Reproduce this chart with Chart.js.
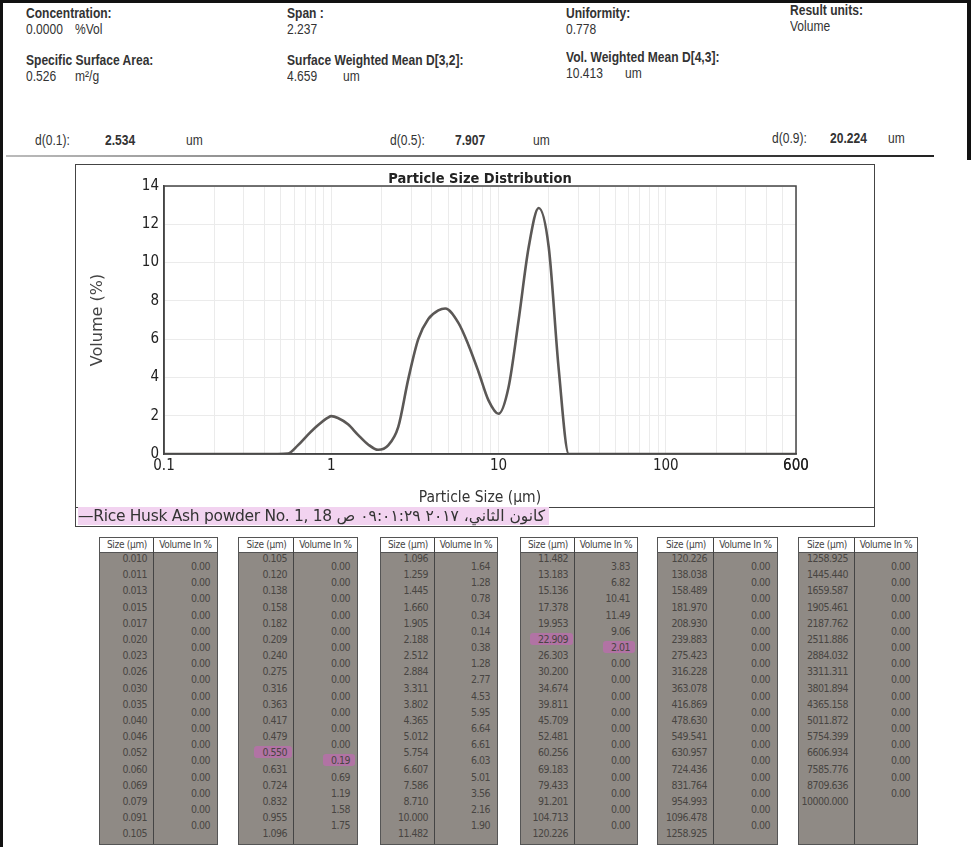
<!DOCTYPE html>
<html>
<head>
<meta charset="utf-8">
<script src="https://cdn.jsdelivr.net/npm/chart.js@4.4.1/dist/chart.umd.min.js"></script>
<style>
  html,body{margin:0;padding:0;background:#fff;}
  body{width:971px;height:847px;position:relative;overflow:hidden;font-family:"Liberation Sans",Arial,sans-serif;color:#333;}
  .t{position:absolute;white-space:nowrap;font-size:14px;transform:scaleX(0.86);transform-origin:left center;}
  .b{font-weight:bold;}
  .frame-l{position:absolute;left:0;top:0;width:3px;height:847px;background:#111;}
  .frame-t{position:absolute;left:0;top:0;width:971px;height:3px;background:#111;}
  .frame-r{position:absolute;right:0;top:0;width:4px;height:160px;background:#111;}
  .hline{position:absolute;left:6px;top:155px;width:928px;height:2px;background:linear-gradient(90deg,#bbb,#555 60%,#222);}
  #box{position:absolute;left:75px;top:164px;width:800px;height:363px;border:1px solid #444;box-sizing:border-box;}
  #wrap{position:absolute;left:0;top:0;width:798px;height:343px;}
  #legend{position:absolute;left:0;top:342px;width:798px;height:19px;border-top:1px solid #444;}
  #legend span{position:absolute;left:2px;top:-1px;font-family:"DejaVu Sans",sans-serif;font-size:15.5px;letter-spacing:-0.3px;color:#333;background:#f2d3f0;padding-right:4px;}
  .tb{position:absolute;top:537px;height:308px;border:1px solid #555;box-sizing:border-box;background:#8f8a85;}
  .th{position:absolute;top:0;height:15px;background:#fff;border-bottom:1px solid #555;box-sizing:border-box;font-family:"DejaVu Sans Condensed",sans-serif;font-size:10px;color:#444;text-align:center;line-height:14px;letter-spacing:-0.3px;}
  .sep{position:absolute;top:0;bottom:0;width:1px;background:#444;}
  .cell{position:absolute;font-family:"DejaVu Sans Condensed",sans-serif;font-size:10.5px;color:#484542;letter-spacing:-0.5px;line-height:12px;}
  .mark{background:rgba(200,100,185,0.6);border-radius:3px;padding:0 5px 0 8px;margin-right:-5px;}
</style>
</head>
<body>
<div class="frame-l"></div><div class="frame-t"></div><div class="frame-r"></div>

<div class="t b" style="left:26px;top:5px;">Concentration:</div>
<div class="t" style="left:26px;top:21px;">0.0000</div>
<div class="t" style="left:75px;top:21px;">%Vol</div>
<div class="t b" style="left:287px;top:5px;">Span :</div>
<div class="t" style="left:287px;top:21px;">2.237</div>
<div class="t b" style="left:566px;top:5px;">Uniformity:</div>
<div class="t" style="left:566px;top:21px;">0.778</div>
<div class="t b" style="left:790px;top:2px;">Result units:</div>
<div class="t" style="left:790px;top:18px;">Volume</div>

<div class="t b" style="left:26px;top:52px;">Specific Surface Area:</div>
<div class="t" style="left:26px;top:68px;">0.526</div>
<div class="t" style="left:75px;top:68px;">m²/g</div>
<div class="t b" style="left:287px;top:52px;">Surface Weighted Mean D[3,2]:</div>
<div class="t" style="left:287px;top:68px;">4.659</div>
<div class="t" style="left:343px;top:68px;">um</div>
<div class="t b" style="left:566px;top:49px;">Vol. Weighted Mean D[4,3]:</div>
<div class="t" style="left:566px;top:65px;">10.413</div>
<div class="t" style="left:625px;top:65px;">um</div>

<div class="t" style="left:35px;top:132px;">d(0.1):</div>
<div class="t b" style="left:105px;top:132px;">2.534</div>
<div class="t" style="left:186px;top:132px;">um</div>
<div class="t" style="left:390px;top:132px;">d(0.5):</div>
<div class="t b" style="left:455px;top:132px;">7.907</div>
<div class="t" style="left:533px;top:132px;">um</div>
<div class="t" style="left:772px;top:130px;">d(0.9):</div>
<div class="t b" style="left:830px;top:130px;">20.224</div>
<div class="t" style="left:888px;top:130px;">um</div>
<div class="hline"></div>

<div id="box">
  <div id="wrap"><canvas id="psd"></canvas></div>
  <div id="legend"><span>—Rice Husk Ash powder No. 1, 18 كانون الثاني، ٢٠١٧ ٠٩:٠١:٢٩ ص</span></div>
</div>

<div id="tables"></div>

<script>
// curve (size in um, volume in %)
const curveSizes=[0.1,0.479,0.55,0.631,0.724,0.832,0.955,1.0,1.096,1.259,1.445,1.66,1.905,2.188,2.512,2.884,3.311,3.802,4.365,4.8,5.754,6.607,7.586,8.71,10,11.482,13.183,15.136,17.378,19.953,22.909,26.303,600];
const curveVolume=[0,0,0.02,0.45,1.0,1.5,1.9,1.98,1.88,1.55,1.0,0.5,0.22,0.45,1.4,3.9,6.0,7.05,7.5,7.6,6.85,5.7,4.3,2.8,2.1,3.5,7.0,10.8,12.85,10.8,4.4,0,0];

const xTickLabels=[0.1,1,10,100,600];
const yTickLabels=[0,2,4,6,8,10,12,14];

// result table columns
const tableSizes=[
  ["0.010","0.011","0.013","0.015","0.017","0.020","0.023","0.026","0.030","0.035","0.040","0.046","0.052","0.060","0.069","0.079","0.091","0.105"],
  ["0.105","0.120","0.138","0.158","0.182","0.209","0.240","0.275","0.316","0.363","0.417","0.479","0.550","0.631","0.724","0.832","0.955","1.096"],
  ["1.096","1.259","1.445","1.660","1.905","2.188","2.512","2.884","3.311","3.802","4.365","5.012","5.754","6.607","7.586","8.710","10.000","11.482"],
  ["11.482","13.183","15.136","17.378","19.953","22.909","26.303","30.200","34.674","39.811","45.709","52.481","60.256","69.183","79.433","91.201","104.713","120.226"],
  ["120.226","138.038","158.489","181.970","208.930","239.883","275.423","316.228","363.078","416.869","478.630","549.541","630.957","724.436","831.764","954.993","1096.478","1258.925"],
  ["1258.925","1445.440","1659.587","1905.461","2187.762","2511.886","2884.032","3311.311","3801.894","4365.158","5011.872","5754.399","6606.934","7585.776","8709.636","10000.000"]
];
const tableVolumes=[
  ["0.00","0.00","0.00","0.00","0.00","0.00","0.00","0.00","0.00","0.00","0.00","0.00","0.00","0.00","0.00","0.00","0.00"],
  ["0.00","0.00","0.00","0.00","0.00","0.00","0.00","0.00","0.00","0.00","0.00","0.00","0.19","0.69","1.19","1.58","1.75"],
  ["1.64","1.28","0.78","0.34","0.14","0.38","1.28","2.77","4.53","5.95","6.64","6.61","6.03","5.01","3.56","2.16","1.90"],
  ["3.83","6.82","10.41","11.49","9.06","2.01","0.00","0.00","0.00","0.00","0.00","0.00","0.00","0.00","0.00","0.00","0.00"],
  ["0.00","0.00","0.00","0.00","0.00","0.00","0.00","0.00","0.00","0.00","0.00","0.00","0.00","0.00","0.00","0.00","0.00"],
  ["0.00","0.00","0.00","0.00","0.00","0.00","0.00","0.00","0.00","0.00","0.00","0.00","0.00","0.00","0.00"]
];
// highlighter marks on the printout: [table, row]
const marked=[[1,12],[3,5]];

const tableLeft=[99,238,380,520,657,798];
const sizeColW=[54,55,54,54,56,56];
const tableW=[119,120,118,118,121,120];

function buildTables(){
  const host=document.getElementById("tables");
  tableSizes.forEach((sizes,t)=>{
    const tb=document.createElement("div");
    tb.className="tb";
    tb.style.left=tableLeft[t]+"px";
    tb.style.width=tableW[t]+"px";
    let html='<div class="th" style="left:0;width:'+sizeColW[t]+'px">Size (µm)</div>'+
      '<div class="th" style="left:'+sizeColW[t]+'px;width:'+(tableW[t]-sizeColW[t]-2)+'px">Volume In %</div>'+
      '<div class="sep" style="left:'+(sizeColW[t]-1)+'px"></div>';
    const isMarked=(r)=>marked.some(m=>m[0]===t&&m[1]===r);
    sizes.forEach((s,r)=>{
      const y=14+16.2*r;
      html+='<div class="cell'+(isMarked(r)?' mark':'')+'" style="top:'+y+'px;right:'+(tableW[t]-sizeColW[t]+5)+'px">'+s+'</div>';
    });
    tableVolumes[t].forEach((v,r)=>{
      const y=22+16.2*r;
      html+='<div class="cell'+(isMarked(r)?' mark':'')+'" style="top:'+y+'px;right:7px">'+v+'</div>';
    });
    tb.innerHTML=html;
    host.appendChild(tb);
  });
}
buildTables();

// log grid positions 0.1..600
const gridTicks=[];
[0.1,1,10,100].forEach(d=>{
  for(let k=1;k<=9;k++){
    const v=+(k*d).toPrecision(3);
    if(v<=600) gridTicks.push(v);
  }
});
gridTicks.push(600);

const frameBox={
  id:"frameBox",
  afterDraw(chart){
    const a=chart.chartArea, c=chart.ctx;
    c.save();
    c.strokeStyle="#444";
    c.lineWidth=1.5;
    c.strokeRect(a.left,a.top,a.right-a.left,a.bottom-a.top);
    // chart heading centred over the plot
    c.fillStyle="#222";
    c.font="bold 14.5px 'DejaVu Sans Condensed'";
    c.textAlign="center";
    c.textBaseline="alphabetic";
    c.fillText("Particle Size Distribution",(a.left+a.right)/2,a.top-3);
    c.restore();
  }
};

const points=curveSizes.map((s,i)=>({x:s,y:curveVolume[i]}));

new Chart(document.getElementById("psd"),{
  type:"line",
  data:{
    datasets:[{
      data:points,
      borderColor:"#5b5856",
      borderWidth:2.6,
      pointRadius:0,
      cubicInterpolationMode:"monotone",
      fill:false
    }]
  },
  options:{
    responsive:true,
    maintainAspectRatio:false,
    animation:false,
    layout:{padding:{left:0,right:78,top:21,bottom:0}},
    plugins:{
      legend:{display:false},
      tooltip:{enabled:false},
      title:{display:false}
    },
    scales:{
      x:{
        type:"logarithmic",
        min:0.1,
        max:600,
        afterBuildTicks(scale){
          scale.ticks=gridTicks.map(v=>({value:v}));
        },
        afterFit(scale){scale.height=54;},
        ticks:{
          autoSkip:false,
          maxRotation:0,
          minRotation:0,
          padding:3,
          color:"#222",
          font:{family:"DejaVu Sans Condensed",size:15},
          callback(v){
            return xTickLabels.some(t=>Math.abs(t-v)<1e-9)?String(v):"";
          }
        },
        grid:{color:"#ebebeb",drawTicks:false},
        border:{color:"#444",width:1.5},
        title:{
          display:true,
          text:"Particle Size (µm)",
          color:"#333",
          font:{family:"DejaVu Sans Condensed",size:15.5},
          padding:{top:0,bottom:1}
        }
      },
      y:{
        min:0,
        max:14,
        afterBuildTicks(scale){
          scale.ticks=yTickLabels.map(v=>({value:v}));
        },
        afterFit(scale){scale.width=88;},
        ticks:{
          padding:5,
          color:"#222",
          font:{family:"DejaVu Sans Condensed",size:15}
        },
        grid:{color:"#ebebeb",drawTicks:false},
        border:{color:"#444",width:1.5},
        title:{
          display:true,
          text:"Volume (%)",
          color:"#444",
          font:{family:"DejaVu Sans",size:16},
          padding:{top:12,bottom:0}
        }
      }
    }
  },
  plugins:[frameBox]
});
</script>
</body>
</html>
